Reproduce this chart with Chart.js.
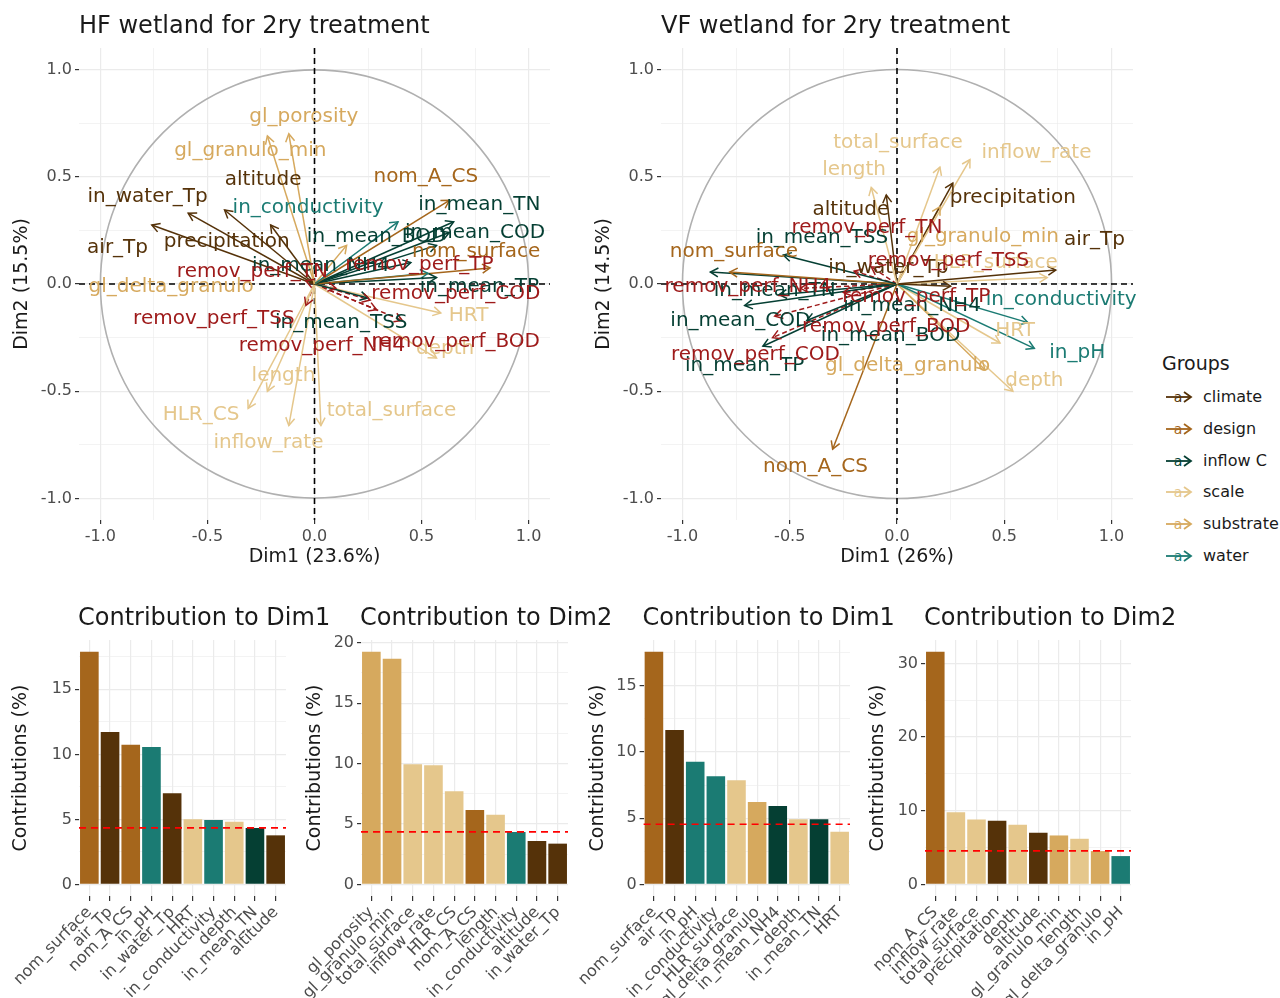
<!DOCTYPE html>
<html><head><meta charset="utf-8">
<script src="https://cdn.jsdelivr.net/npm/chart.js@4.4.0/dist/chart.umd.min.js"></script>
<style>
body{margin:0;background:#fff;width:1280px;height:998px;overflow:hidden;position:relative;font-family:"DejaVu Sans",sans-serif;}
canvas{position:absolute;}
#legend{position:absolute;left:0;top:0;color:#1a1a1a;}
.lg{position:absolute;white-space:nowrap;}
</style></head><body>
<canvas id="hf" width="570" height="580" style="left:0;top:0"></canvas>
<canvas id="vf" width="568" height="580" style="left:582px;top:0"></canvas>
<canvas id="b1" width="354" height="408" style="left:0;top:590px"></canvas>
<canvas id="b2" width="342" height="408" style="left:294px;top:590px"></canvas>
<canvas id="b3" width="341" height="408" style="left:576px;top:590px"></canvas>
<canvas id="b4" width="353" height="408" style="left:857px;top:590px"></canvas>
<div id="legend"></div>
<script>
const FONT = '"DejaVu Sans", sans-serif';
const groupNames = ['climate','design','inflow C','scale','substrate','water'];
const groupColors = ['#553209','#A5661C','#053F33','#E5C78C','#D6A95E','#1B7B73'];
const suppColor = '#9E1A1A';

// ---- HF wetland PCA (variable coordinates) ----
const hfVariables = ['gl_porosity','gl_granulo_min','altitude','in_water_Tp','air_Tp','precipitation','in_conductivity','nom_A_CS','in_mean_TN','in_mean_BOD','in_mean_COD','nom_surface','in_mean_TP','in_mean_TSS','in_mean_NH4','in_pH','HRT','depth','length','HLR_CS','inflow_rate','total_surface','gl_delta_granulo','remov_perf_TN','remov_perf_TP','remov_perf_COD','remov_perf_BOD','remov_perf_TSS','remov_perf_NH4'];
const hfGroups = ['substrate','substrate','climate','climate','climate','climate','water','design','inflow C','inflow C','inflow C','design','inflow C','inflow C','inflow C','water','scale','scale','scale','scale','scale','scale','substrate','supplementary','supplementary','supplementary','supplementary','supplementary','supplementary'];
const hfDim1 = [-0.12,-0.22,-0.42,-0.59,-0.76,-0.205,0.39,0.63,0.65,0.57,0.63,0.82,0.57,0.25,0.45,0.53,0.59,0.57,-0.22,-0.31,-0.12,0.03,0.15,-0.04,0.10,0.29,0.41,-0.04,0.26];
const hfDim2 = [0.70,0.69,0.345,0.33,0.275,0.275,0.29,0.39,0.29,0.18,0.24,0.075,0.03,-0.065,0.10,0.05,-0.135,-0.345,-0.50,-0.58,-0.66,-0.66,0.18,0.015,-0.02,-0.12,-0.17,-0.10,-0.075];
const hfLabelDim1 = [-0.05,-0.30,-0.24,-0.78,-0.92,-0.41,-0.03,0.52,0.77,0.29,0.75,0.755,0.77,0.125,0.03,null,0.72,0.61,-0.145,-0.53,-0.215,0.36,-0.67,-0.29,0.49,0.66,0.66,-0.47,0.035];
const hfLabelDim2 = [0.78,0.62,0.485,0.405,0.17,0.196,0.354,0.50,0.37,0.22,0.24,0.15,-0.014,-0.18,0.085,null,-0.15,-0.30,-0.43,-0.61,-0.74,-0.59,-0.014,0.056,0.09,-0.047,-0.27,-0.16,-0.29];

// ---- VF wetland PCA (variable coordinates) ----
const vfVariables = ['length','altitude','total_surface','inflow_rate','precipitation','gl_granulo_min','air_Tp','in_mean_TSS','nom_surface','in_mean_TN','in_water_Tp','HLR_surface','in_conductivity','in_pH','HRT','in_mean_NH4','in_mean_COD','in_mean_BOD','in_mean_TP','gl_delta_granulo','depth','nom_A_CS','remov_perf_TN','remov_perf_TSS','remov_perf_NH4','remov_perf_TP','remov_perf_BOD','remov_perf_COD'];
const vfGroups = ['scale','climate','scale','scale','climate','substrate','climate','inflow C','design','inflow C','climate','scale','water','water','scale','inflow C','inflow C','inflow C','inflow C','substrate','scale','design','supplementary','supplementary','supplementary','supplementary','supplementary','supplementary'];
const vfDim1 = [-0.12,-0.05,0.20,0.34,0.26,0.20,0.74,-0.53,-0.78,-0.87,0.25,0.70,0.61,0.64,0.48,-0.55,-0.71,-0.42,-0.625,0.41,0.54,-0.30,-0.12,-0.20,-0.45,-0.25,-0.57,-0.58];
const vfDim2 = [0.45,0.415,0.545,0.58,0.47,0.36,0.065,0.135,0.056,0.056,-0.01,0.03,-0.18,-0.30,-0.275,-0.05,-0.10,-0.17,-0.29,-0.40,-0.50,-0.77,0.08,0.06,-0.02,-0.04,-0.15,-0.25];
const vfLabelDim1 = [-0.20,-0.215,0.005,0.65,0.54,0.40,0.92,-0.35,-0.76,-0.57,-0.04,0.46,0.765,0.84,0.55,0.07,-0.73,-0.03,-0.71,0.05,0.64,-0.38,-0.14,0.24,-0.695,0.09,-0.05,-0.66];
const vfLabelDim2 = [0.53,0.345,0.66,0.61,0.40,0.22,0.205,0.215,0.15,-0.03,0.075,0.10,-0.075,-0.32,-0.22,-0.10,-0.17,-0.24,-0.38,-0.38,-0.45,-0.85,0.26,0.11,-0.015,-0.06,-0.20,-0.33];

// ---- Contributions (%) ----
const hfDim1Vars = ['nom_surface','air_Tp','nom_A_CS','in_pH','in_water_Tp','HRT','in_conductivity','depth','in_mean_TN','altitude'];
const hfDim1Contrib = [17.9,11.72,10.74,10.56,7.0,5.0,4.95,4.82,4.33,3.77];
const hfDim2Vars = ['gl_porosity','gl_granulo_min','total_surface','inflow_rate','HLR_CS','nom_A_CS','length','in_conductivity','altitude','in_water_Tp'];
const hfDim2Contrib = [19.26,18.68,9.93,9.85,7.7,6.15,5.77,4.33,3.59,3.37];
const vfDim1Vars = ['nom_surface','air_Tp','in_pH','in_conductivity','HLR_surface','gl_delta_granulo','in_mean_NH4','depth','in_mean_TN','HRT'];
const vfDim1Contrib = [17.59,11.66,9.27,8.17,7.86,6.23,5.93,4.92,4.92,3.97];
const vfDim2Vars = ['nom_A_CS','inflow_rate','total_surface','precipitation','depth','altitude','gl_granulo_min','length','gl_delta_granulo','in_pH'];
const vfDim2Contrib = [31.6,9.8,8.8,8.63,8.09,7.0,6.64,6.19,4.52,3.84];

const biplotTicks = [-1,-0.75,-0.5,-0.25,0,0.25,0.5,0.75,1];

function colorOf(g){ return g==='supplementary' ? suppColor : groupColors[groupNames.indexOf(g)]; }
const isMajorHalf = v => Math.abs(v*2 - Math.round(v*2)) < 1e-9;

function biplot(id, vars, grps, d1, d2, lx, ly, title, xTitle, yTitle){
  const datasets = vars.map((v,i)=>({
    label:v, data:[{x:0,y:0},{x:d1[i],y:d2[i]}], showLine:true,
    borderColor:colorOf(grps[i]), borderWidth:1.5,
    borderDash: grps[i]==='supplementary' ? [5,3] : [],
    pointRadius:0, pointHoverRadius:0, fill:false, tension:0
  }));
  const decor = {
    id:'decor',
    beforeDatasetsDraw(chart){
      const {ctx, chartArea:a, scales:{x,y}} = chart;
      const cx = x.getPixelForValue(0), cy = y.getPixelForValue(0);
      const r = x.getPixelForValue(1) - cx;
      ctx.save();
      ctx.strokeStyle = '#B0B0B0'; ctx.lineWidth = 1.6;
      ctx.beginPath(); ctx.arc(cx, cy, r, 0, Math.PI*2); ctx.stroke();
      ctx.strokeStyle = '#000'; ctx.lineWidth = 1.6; ctx.setLineDash([6,4]);
      ctx.beginPath(); ctx.moveTo(a.left, cy); ctx.lineTo(a.right, cy); ctx.stroke();
      ctx.beginPath(); ctx.moveTo(cx, a.top); ctx.lineTo(cx, a.bottom); ctx.stroke();
      ctx.restore();
    },
    afterDatasetsDraw(chart){
      const {ctx, scales:{x,y}} = chart;
      ctx.save();
      vars.forEach((v,i)=>{
        const x0 = x.getPixelForValue(0), y0 = y.getPixelForValue(0);
        const x1 = x.getPixelForValue(d1[i]), y1 = y.getPixelForValue(d2[i]);
        const ang = Math.atan2(y1-y0, x1-x0), L = 9, A = Math.PI/6;
        ctx.strokeStyle = colorOf(grps[i]); ctx.lineWidth = 1.5; ctx.setLineDash([]);
        ctx.beginPath();
        ctx.moveTo(x1 - L*Math.cos(ang-A), y1 - L*Math.sin(ang-A));
        ctx.lineTo(x1, y1);
        ctx.lineTo(x1 - L*Math.cos(ang+A), y1 - L*Math.sin(ang+A));
        ctx.stroke();
      });
      ctx.font = '20px ' + FONT; ctx.textAlign = 'center'; ctx.textBaseline = 'middle';
      vars.forEach((v,i)=>{
        if (lx[i] === null) return;
        ctx.fillStyle = colorOf(grps[i]);
        ctx.fillText(v, x.getPixelForValue(lx[i]), y.getPixelForValue(ly[i]));
      });
      ctx.restore();
    },
    afterDraw(chart){
      const {ctx, chartArea:a} = chart;
      ctx.save();
      ctx.font = '24px ' + FONT; ctx.fillStyle = '#1a1a1a'; ctx.textAlign='left'; ctx.textBaseline='middle';
      ctx.fillText(title, a.left, a.top - 21);
      ctx.restore();
    }
  };
  const gridOpts = {
    color:'#EBEBEB',
    lineWidth: c => (c.tick && isMajorHalf(c.tick.value)) ? 1.2 : 0.6,
    tickColor: c => (c.tick && isMajorHalf(c.tick.value)) ? '#333333' : 'rgba(0,0,0,0)',
    tickLength:4, drawTicks:true
  };
  const tickOpts = {
    color:'#4D4D4D', font:{size:16, family:FONT}, padding:3, autoSkip:false, maxRotation:0,
    callback: v => isMajorHalf(v) ? v.toFixed(1) : ''
  };
  new Chart(document.getElementById(id), {
    type:'scatter',
    data:{datasets},
    options:{
      responsive:false, animation:false, events:[],
      layout:{padding:{top:48, right:id==='hf'?20:17, left:0, bottom:0}},
      plugins:{legend:{display:false}, tooltip:{enabled:false}},
      scales:{
        x:{type:'linear', min:-1.1, max:1.1,
           afterBuildTicks: s => { s.ticks = biplotTicks.map(v=>({value:v})); },
           afterFit: s => { s.height = 60; },
           ticks: tickOpts, grid: gridOpts, border:{display:false},
           title:{display:true, text:xTitle, color:'#1a1a1a', font:{size:19, family:FONT}, padding:{top:0,bottom:12}}},
        y:{type:'linear', min:-1.1, max:1.1,
           afterBuildTicks: s => { s.ticks = biplotTicks.map(v=>({value:v})); },
           afterFit: s => { s.width = 79; },
           ticks: tickOpts, grid: gridOpts, border:{display:false},
           title:{display:true, text:yTitle, color:'#1a1a1a', font:{size:19, family:FONT}, padding:{top:11,bottom:0}}}
      }
    },
    plugins:[decor]
  });
}

function groupLookup(name){
  let i = hfVariables.indexOf(name);
  if (i >= 0) return hfGroups[i];
  i = vfVariables.indexOf(name);
  return vfGroups[i];
}
function lookupIn(vars, grps){ return n => grps[vars.indexOf(n)] || groupLookup(n); }

function barChart(id, cats, vals, lookup, expected, title, step, yW, rightPad){
  const top = Math.max(...vals) * 1.05, bottom = -Math.max(...vals) * 0.05;
  const deco = {
    id:'bdeco',
    afterDatasetsDraw(chart){
      const {ctx, chartArea:a, scales:{y}} = chart;
      const py = y.getPixelForValue(expected);
      ctx.save();
      ctx.strokeStyle = '#FF0000'; ctx.lineWidth = 1.6; ctx.setLineDash([7,5]);
      ctx.beginPath(); ctx.moveTo(a.left, py); ctx.lineTo(a.right, py); ctx.stroke();
      ctx.restore();
    },
    afterDraw(chart){
      const {ctx, chartArea:a} = chart;
      ctx.save();
      ctx.font = '24px ' + FONT; ctx.fillStyle = '#1a1a1a'; ctx.textAlign='left'; ctx.textBaseline='middle';
      ctx.fillText(title, a.left - 1, a.top - 21);
      ctx.restore();
    }
  };
  new Chart(document.getElementById(id), {
    type:'bar',
    data:{labels:cats, datasets:[{data:vals, backgroundColor:cats.map(c=>colorOf(lookup(c))), barPercentage:0.9, categoryPercentage:1.0}]},
    options:{
      responsive:false, animation:false, events:[],
      layout:{padding:{top:50, right:rightPad, left:0, bottom:0}},
      plugins:{legend:{display:false}, tooltip:{enabled:false}},
      scales:{
        x:{grid:{offset:false, color:'#EBEBEB', lineWidth:1.2, tickColor:'#333333', tickLength:5},
           border:{display:false},
           ticks:{color:'#4D4D4D', font:{size:16, family:FONT}, minRotation:45, maxRotation:45, autoSkip:false, padding:2},
           afterFit: s => { s.height = 102; }},
        y:{min:bottom, max:top,
           afterBuildTicks: s => { const t=[]; for(let v=0; v<=top+1e-9; v+=step/2) t.push({value:v}); s.ticks=t; },
           afterFit: s => { s.width = yW; },
           border:{display:false},
           grid:{color:'#EBEBEB', lineWidth: c => (c.tick && Math.abs(c.tick.value % step) < 1e-9) ? 1.2 : 0.6,
                 tickColor: c => (c.tick && Math.abs(c.tick.value % step) < 1e-9) ? '#333333' : 'rgba(0,0,0,0)', tickLength:4},
           ticks:{color:'#4D4D4D', font:{size:16, family:FONT}, padding:3, autoSkip:false,
                  callback: v => (Math.abs(v % step) < 1e-9) ? String(v) : ''},
           title:{display:true, text:'Contributions (%)', color:'#1a1a1a', font:{size:19, family:FONT}, padding:{top:10,bottom:0}}}
      }
    },
    plugins:[deco]
  });
}

const hfActive = hfGroups.filter(g=>g!=='supplementary').length;
const vfActive = vfGroups.filter(g=>g!=='supplementary').length;

biplot('hf', hfVariables, hfGroups, hfDim1, hfDim2, hfLabelDim1, hfLabelDim2, 'HF wetland for 2ry treatment', 'Dim1 (23.6%)', 'Dim2 (15.5%)');
biplot('vf', vfVariables, vfGroups, vfDim1, vfDim2, vfLabelDim1, vfLabelDim2, 'VF wetland for 2ry treatment', 'Dim1 (26%)', 'Dim2 (14.5%)');

const hfLook = lookupIn(hfVariables, hfGroups), vfLook = lookupIn(vfVariables, vfGroups);
barChart('b1', hfDim1Vars, hfDim1Contrib, hfLook, 100/hfActive, 'Contribution to Dim1', 5, 79, 68);
barChart('b2', hfDim2Vars, hfDim2Contrib, hfLook, 100/hfActive, 'Contribution to Dim2', 5, 67, 68);
barChart('b3', vfDim1Vars, vfDim1Contrib, vfLook, 100/vfActive, 'Contribution to Dim1', 5, 67, 67);
barChart('b4', vfDim2Vars, vfDim2Contrib, vfLook, 100/vfActive, 'Contribution to Dim2', 10, 68, 79);

// ---- Legend ----
const lg = document.getElementById('legend');
let html = '<div class="lg" style="left:1162px;top:350px;font-size:19px;line-height:26px;">Groups</div>';
groupNames.forEach((g,i)=>{
  const cy = 397 + i*31.8;
  const c = groupColors[i];
  html += `<svg class="lg" style="left:1163px;top:${cy-10}px" width="32" height="20">
    <line x1="3" y1="10" x2="28" y2="10" stroke="${c}" stroke-width="1.8"/>
    <polyline points="21,5 28,10 21,15" fill="none" stroke="${c}" stroke-width="1.8"/>
    <text x="15" y="14.5" text-anchor="middle" font-family="DejaVu Sans" font-size="14" fill="${c}">a</text></svg>`;
  html += `<div class="lg" style="left:1203px;top:${cy-10}px;font-size:16px;line-height:20px;">${g}</div>`;
});
lg.innerHTML = html;
</script>
</body></html>
